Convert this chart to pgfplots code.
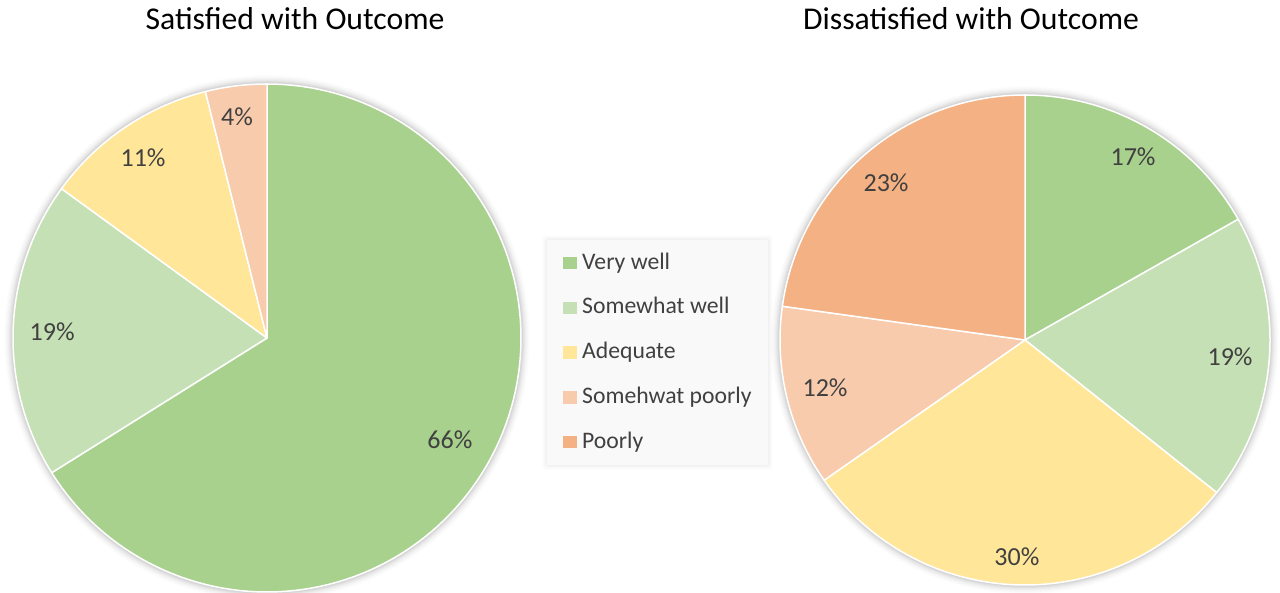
\documentclass[border=0pt]{standalone}
\usepackage{pgfplots}
\pgfplotsset{compat=1.18}
\usepackage{fontspec}
\setmainfont{Carlito}
\definecolor{vw}{HTML}{A9D18E}
\definecolor{sw}{HTML}{C5E0B4}
\definecolor{ad}{HTML}{FFE699}
\definecolor{sp}{HTML}{F8CBAD}
\definecolor{po}{HTML}{F4B183}
\definecolor{txt}{HTML}{404040}
\definecolor{legbg}{HTML}{F9F9F9}
% slice: colour, cumulative start %, cumulative end % (clockwise from 12 o'clock)
\newcommand{\slice}[3]{\addplot[fill=#1, draw=white, line width=1.5bp, line join=round,
  domain={90-3.6*(#3)}:{90-3.6*(#2)}, samples=120, variable=\t, forget plot]
  ({cos(\t)},{sin(\t)}) -- (axis cs:0,0) -- cycle;}
\newcommand{\lbl}[3]{\node[font=\fontsize{26bp}{30bp}\selectfont, text=txt, inner sep=0pt] at (axis cs:#1,#2) {#3};}
\begin{document}
\begin{tikzpicture}[x=1bp,y=1bp]
\path[use as bounding box] (0,0) rectangle (1280,593);
% soft shadows
\foreach \k/\o in {1/0.04,2/0.035,3/0.03,4/0.025,5/0.02,6/0.015,7/0.012,8/0.01,9/0.008}{
  \fill[black,opacity=\o] (267,255) circle[radius=254+\k];
  \fill[black,opacity=\o] (1025,253) circle[radius=245+\k];
}
\foreach \k/\o in {1/0.015,2/0.012,3/0.01,4/0.008,5/0.006}{
  \fill[black,opacity=\o,rounded corners=3] (547-\k,128-\k) rectangle (768+\k,353+\k);
}
\node[anchor=base, font=\fontsize{31.7bp}{38bp}\selectfont] at (295,563) {Satisfied with Outcome};
\node[anchor=base, font=\fontsize{31.7bp}{38bp}\selectfont] at (971,563) {Dissatisfied with Outcome};

% Satisfied: Very well 66.1, Somewhat well 18.9, Adequate 11.1, Somewhat poorly 3.9, Poorly 0
\begin{axis}[at={(267bp,255bp)}, anchor=center, width=508bp, height=508bp, scale only axis,
  hide axis, xmin=-1, xmax=1, ymin=-1, ymax=1, clip=false,
  legend cell align=left,
  legend style={at={(axis description cs:1.0512,0.693)}, anchor=north west,
    fill=legbg, draw=none, inner xsep=16bp, inner ysep=12bp,
    row sep=22.75bp, column sep=5bp,
    font=\fontsize{23.7bp}{28bp}\selectfont, text=txt,
    nodes={inner sep=0pt, text height=17bp, text depth=5bp}},
  legend image code/.code={\fill[#1, draw=none] (0bp,-6.3bp) rectangle (14bp,6.3bp);}]
\slice{vw}{0}{66.1}
\slice{sw}{66.1}{85.0}
\slice{ad}{85.0}{96.1}
\slice{sp}{96.1}{100}
\addlegendimage{fill=vw, draw=none}\addlegendentry{Very well}
\addlegendimage{fill=sw, draw=none}\addlegendentry{Somewhat well}
\addlegendimage{fill=ad, draw=none}\addlegendentry{Adequate}
\addlegendimage{fill=sp, draw=none}\addlegendentry{Somehwat poorly}
\addlegendimage{fill=po, draw=none}\addlegendentry{Poorly}
\lbl{0.72}{-0.40}{66\%}
\lbl{-0.846}{0.024}{19\%}
\lbl{-0.488}{0.709}{11\%}
\lbl{-0.118}{0.870}{4\%}
\end{axis}

% Dissatisfied: Very well 16.8, Somewhat well 18.9, Adequate 29.6, Somewhat poorly 11.9, Poorly 22.8
\begin{axis}[at={(1025bp,253bp)}, anchor=center, width=490bp, height=490bp, scale only axis,
  hide axis, xmin=-1, xmax=1, ymin=-1, ymax=1, clip=false]
\slice{vw}{0}{16.8}
\slice{sw}{16.8}{35.7}
\slice{ad}{35.7}{65.3}
\slice{sp}{65.3}{77.2}
\slice{po}{77.2}{100}
\lbl{0.441}{0.747}{17\%}
\lbl{0.837}{-0.069}{19\%}
\lbl{-0.033}{-0.886}{30\%}
\lbl{-0.816}{-0.196}{12\%}
\lbl{-0.567}{0.641}{23\%}
\end{axis}
\end{tikzpicture}
\end{document}
